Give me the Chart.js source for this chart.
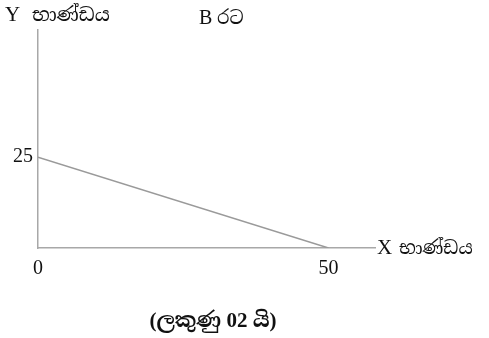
<!DOCTYPE html>
<html>
<head>
<meta charset="utf-8">
<script src="https://cdn.jsdelivr.net/npm/chart.js@4"></script>
<style>
  html, body { margin: 0; padding: 0; background: #fff; }
  canvas { display: block; }
</style>
</head>
<body>
<canvas id="ppfChart" width="489" height="338"></canvas>
<script>
const xValues = [0, 50];
const yValues = [25, 0];
const xTicks = [0, 50];
const yTicks = [25];

const yAxisName = 'Y භාණ්ඩය';
const xAxisName = 'X භාණ්ඩය';
const countryName = 'B රට';
const caption = '(ලකුණු 02 යි)';

const serif = "'Liberation Serif', 'Noto Serif Sinhala', 'Noto Sans Sinhala', serif";

const textPlugin = {
    id: 'textPlugin',
    afterDraw(chart) {
        const ctx = chart.ctx;
        const area = chart.chartArea;
        ctx.save();
        ctx.fillStyle = '#111';
        ctx.textBaseline = 'middle';

        ctx.textAlign = 'left';
        ctx.font = '21px ' + serif;
        ctx.fillText('Y', 5, 15);
        ctx.font = '19px ' + serif;
        ctx.fillText(yAxisName.slice(2), 32, 16);

        ctx.font = '20px ' + serif;
        ctx.fillText('B', 199, 19);
        ctx.font = '18px ' + serif;
        ctx.fillText(countryName.slice(2), 217, 19);

        ctx.font = '21px ' + serif;
        ctx.fillText('X', area.right + 2, area.bottom);
        ctx.font = '18px ' + serif;
        ctx.fillText(xAxisName.slice(2), area.right + 24, area.bottom + 1);

        ctx.textAlign = 'center';
        ctx.font = 'bold 21px ' + serif;
        ctx.fillText(caption, 213, 322);
        ctx.restore();
    }
};

const ppfChart = new Chart(document.getElementById('ppfChart').getContext('2d'), {
    type: 'scatter',
    data: {
        datasets: [{
            data: xValues.map((x, i) => ({ x: x, y: yValues[i] })),
            showLine: true,
            borderColor: '#9a9a9a',
            borderWidth: 1.5,
            pointRadius: 0,
            fill: false
        }]
    },
    options: {
        responsive: false,
        devicePixelRatio: 1,
        animation: false,
        layout: { padding: { left: 0, top: 30, right: 114, bottom: 0 } },
        plugins: {
            legend: { display: false },
            tooltip: { enabled: false }
        },
        scales: {
            x: {
                type: 'linear',
                min: 0,
                max: 58,
                afterBuildTicks: (scale) => { scale.ticks = xTicks.map(v => ({ value: v })); },
                afterFit: (scale) => { scale.height = 90; },
                grid: { display: false, drawTicks: false },
                border: { display: true, color: '#a8a8a8', width: 1.5 },
                ticks: { color: '#111', padding: 9, font: { family: serif, size: 20 } }
            },
            y: {
                type: 'linear',
                min: 0,
                max: 60,
                afterBuildTicks: (scale) => { scale.ticks = yTicks.map(v => ({ value: v })); },
                afterFit: (scale) => { scale.width = 38; },
                grid: { display: false, drawTicks: false },
                border: { display: true, color: '#a8a8a8', width: 1.5 },
                ticks: { color: '#111', padding: 5, font: { family: serif, size: 20 } }
            }
        }
    },
    plugins: [textPlugin]
});
</script>
</body>
</html>
